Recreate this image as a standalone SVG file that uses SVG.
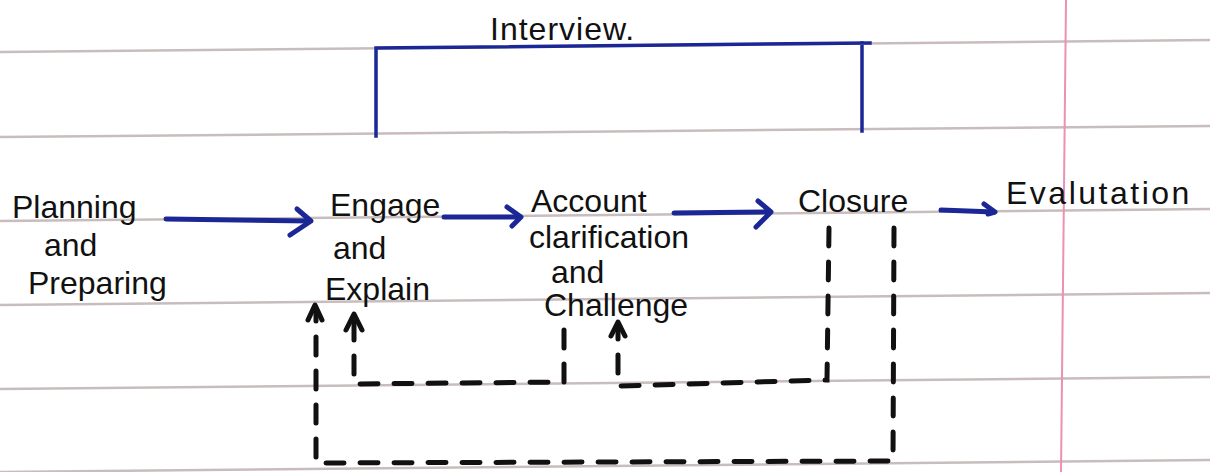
<svg xmlns="http://www.w3.org/2000/svg" width="1210" height="472" viewBox="0 0 1210 472">
<style>
.rule{stroke:#c9bcbc;stroke-width:2.5;fill:none}
.margin{stroke:#ee8fb4;stroke-width:2;fill:none}
.ink{font-family:"Liberation Sans","DejaVu Sans",sans-serif;fill:#111;font-size:32px}
.blue{stroke:#1c2796;stroke-width:5;fill:none;stroke-linecap:round;stroke-linejoin:round}
.bracket{stroke:#1c2796;stroke-width:3.5;fill:none;stroke-linecap:square}
.dash{stroke:#111;stroke-width:5;fill:none;stroke-dasharray:18 16;stroke-linecap:round}
.head{stroke:#111;stroke-width:5;fill:none;stroke-linecap:round;stroke-linejoin:round}
</style>
<rect width="1210" height="472" fill="#ffffff"/>
<g id="paper">
<line class="rule" x1="0" y1="52" x2="1210" y2="40"/>
<line class="rule" x1="0" y1="137" x2="1210" y2="126"/>
<line class="rule" x1="0" y1="221" x2="1210" y2="209"/>
<line class="rule" x1="0" y1="305" x2="1210" y2="293"/>
<line class="rule" x1="0" y1="389" x2="1210" y2="377"/>
<line class="rule" x1="0" y1="472" x2="1210" y2="460"/>
<line class="margin" x1="1066" y1="0" x2="1061" y2="472"/>
</g>
<g id="interview">
<path class="bracket" d="M376 136 L376 48 L870 43 M862 43 L862 131"/>
<text class="ink" x="490" y="40" font-size="30" letter-spacing="1">Interview.</text>
</g>
<g id="planning">
<text class="ink" x="12" y="218" font-size="32">Planning</text>
<text class="ink" x="44" y="256" font-size="28">and</text>
<text class="ink" x="28" y="294" font-size="30">Preparing</text>
</g>
<g id="engage">
<text class="ink" x="330" y="216" font-size="30">Engage</text>
<text class="ink" x="333" y="259" font-size="29">and</text>
<text class="ink" x="325" y="300" font-size="31">Explain</text>
</g>
<g id="account">
<text class="ink" x="531" y="212" font-size="29">Account</text>
<text class="ink" x="529" y="248" font-size="27">clarification</text>
<text class="ink" x="551" y="283" font-size="27">and</text>
<text class="ink" x="544" y="316" font-size="29">Challenge</text>
</g>
<g id="closure">
<text class="ink" x="798" y="212" font-size="31">Closure</text>
</g>
<g id="evaluation">
<text class="ink" x="1006" y="204" font-size="32" letter-spacing="2.5">Evalutation</text>
</g>
<g id="connectors">
<line class="blue" x1="166" y1="219" x2="310" y2="221"/>
<polyline class="blue" points="297,209 311,221 290,235"/>
<line class="blue" x1="444" y1="217" x2="520" y2="217"/>
<polyline class="blue" points="507,207 521,217 512,226"/>
<line class="blue" x1="674" y1="213" x2="770" y2="212"/>
<polyline class="blue" points="758,201 771,212 756,227"/>
<line class="blue" x1="941" y1="210" x2="994" y2="212"/>
<polyline class="blue" points="984,204 995,212 988,214"/>
<path class="dash" d="M894 228 L893 461 L316 463 L316 310"/>
<polyline class="head" points="308,320 315,305 322,320"/>
<path class="dash" d="M829 228 L827 380 L618 386 L618 326"/>
<polyline class="head" points="611,336 618,322 625,336"/>
<path class="dash" d="M564 330 L564 382 L354 384 L354 318"/>
<polyline class="head" points="346,330 354,314 362,330"/>
</g>
</svg>
